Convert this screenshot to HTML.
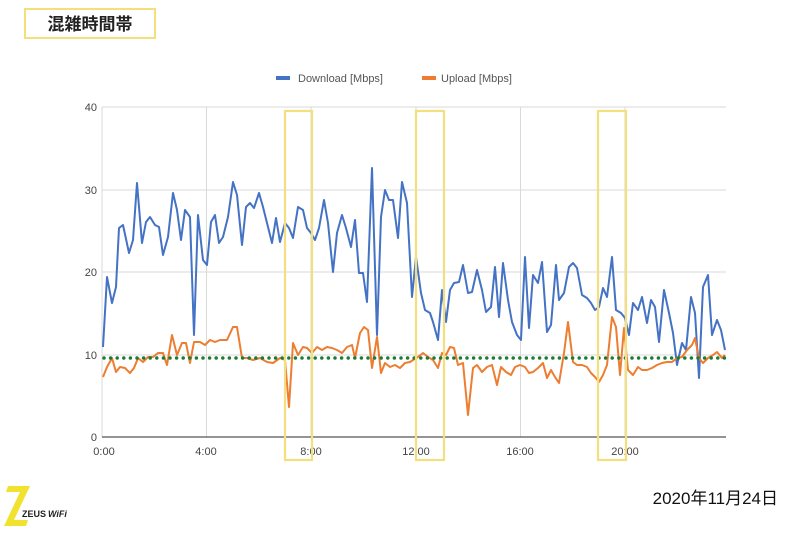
<!DOCTYPE html>
<html><head><meta charset="utf-8"><style>
body{margin:0;background:#fff;width:800px;height:533px;overflow:hidden;font-family:"Liberation Sans","Noto Sans CJK JP",sans-serif}
</style></head><body>
<svg width="800" height="533" viewBox="0 0 800 533" xmlns="http://www.w3.org/2000/svg" font-family="Liberation Sans, Noto Sans CJK JP, sans-serif">
<rect x="25" y="9" width="130" height="29" fill="#fff" stroke="#f3df7e" stroke-width="2"/>
<text x="90" y="30" text-anchor="middle" font-size="17" font-weight="bold" fill="#222">混雑時間帯</text>
<rect x="276" y="76" width="14" height="4" fill="#4472c4"/>
<text x="298" y="82" font-size="11" fill="#555">Download [Mbps]</text>
<rect x="422" y="76" width="14" height="4" fill="#ed7d31"/>
<text x="441" y="82" font-size="11" fill="#555">Upload [Mbps]</text>
<g stroke="#d9d9d9" stroke-width="1">
<line x1="102" y1="107" x2="726" y2="107"/><line x1="102" y1="190" x2="726" y2="190"/>
<line x1="102" y1="272" x2="726" y2="272"/><line x1="102" y1="355" x2="726" y2="355"/>
<line x1="102" y1="107" x2="102" y2="437"/><line x1="206.5" y1="107" x2="206.5" y2="437"/>
<line x1="311" y1="107" x2="311" y2="437"/><line x1="416" y1="107" x2="416" y2="437"/>
<line x1="520.5" y1="107" x2="520.5" y2="437"/><line x1="625" y1="107" x2="625" y2="437"/>
</g>
<line x1="102" y1="437" x2="726" y2="437" stroke="#555" stroke-width="1.2"/>
<g font-size="11" fill="#444" text-anchor="end">
<text x="97" y="111">40</text><text x="97" y="194">30</text><text x="97" y="276">20</text><text x="97" y="359">10</text><text x="97" y="441">0</text>
</g>
<g font-size="11" fill="#444" text-anchor="middle">
<text x="104" y="455">0:00</text><text x="206" y="455">4:00</text><text x="311" y="455">8:00</text><text x="416" y="455">12:00</text><text x="520" y="455">16:00</text><text x="625" y="455">20:00</text>
</g>
<polyline fill="none" stroke="#4472c4" stroke-width="2" stroke-linejoin="round" points="103,347 107,277 112,303 116,287 119,228 123,225 129,253 133,240 137,183 142,243 146,222 150,217 155,225 159,227 163,255 168,237 173,193 177,210 181,240 185,210 190,217 194,335 198,215 203,260 207,265 211,222 215,215 219,243 223,237 228,217 233,182 237,195 242,245 246,207 250,203 254,208 259,193 263,207 267,223 272,243 276,218 280,242 285,223 289,228 293,238 298,207 303,210 307,228 311,233 315,240 319,228 324,200 328,223 333,272 337,233 342,215 346,228 351,247 355,220 359,273 363,273 367,302 372,168 377,335 381,217 385,190 389,200 393,200 398,238 402,182 407,203 412,297 416,257 421,293 425,310 430,313 433,322 438,340 442,290 446,322 450,290 454,283 459,282 463,265 468,293 472,292 477,270 482,290 486,312 491,307 495,267 499,317 503,263 508,300 512,322 517,335 521,340 525,257 529,328 533,275 538,283 542,262 547,332 551,325 556,265 559,300 564,293 569,267 573,263 577,268 582,295 587,298 591,303 595,310 599,307 603,288 607,297 612,257 616,310 621,313 625,318 629,335 633,303 638,310 642,297 647,323 651,300 655,307 659,342 664,290 669,313 673,333 677,365 682,343 686,350 691,297 695,313 699,378 703,287 708,275 712,335 717,320 721,330 725,350"/>
<polyline fill="none" stroke="#ed7d31" stroke-width="2" stroke-linejoin="round" points="103,377 107,367 112,358 116,372 120,367 125,368 130,373 134,368 138,358 143,362 148,357 153,357 158,353 163,353 167,365 172,335 177,355 182,343 186,343 190,363 194,342 200,342 205,345 210,340 215,342 220,340 227,340 233,327 237,327 242,358 247,358 253,360 260,358 267,362 273,363 280,358 285,360 289,407 293,343 298,355 303,347 307,348 312,353 317,347 322,350 327,347 332,348 337,350 342,353 347,347 352,345 355,358 360,333 364,327 368,330 372,368 377,337 381,373 385,363 390,367 395,365 400,368 405,363 410,362 413,360 418,357 423,353 428,357 433,360 438,368 442,353 446,355 450,347 454,348 458,365 463,363 468,415 473,368 477,365 482,372 487,367 492,365 497,385 501,367 506,372 511,375 515,367 520,365 525,367 529,373 533,372 538,368 543,363 547,378 551,370 555,377 559,383 564,353 568,322 573,362 577,365 582,365 587,367 591,373 595,377 599,382 603,375 607,365 612,317 616,327 620,375 624,328 628,370 633,375 638,367 642,370 647,370 652,368 657,365 662,363 667,362 672,362 677,358 682,357 687,350 692,345 695,338 699,358 703,363 708,358 713,355 717,352 722,358 725,355"/>
<line x1="104" y1="358" x2="726" y2="358" stroke="#1e7b34" stroke-width="3.5" stroke-dasharray="0 6.6" stroke-linecap="round"/>
<g fill="none" stroke="#f3df7e" stroke-width="2.2">
<rect x="285" y="111" width="27" height="349"/>
<rect x="416" y="111" width="28" height="349"/>
<rect x="598" y="111" width="28" height="349"/>
</g>
<path d="M8,486 L30,486 L14,520 L28,520 L26,526 L4,526 L20,492 L6,492 Z" fill="#f2e230"/>
<text x="22" y="517" font-size="9" font-weight="bold" fill="#222">ZEUS</text>
<text x="48" y="517" font-size="9" font-style="italic" font-weight="bold" fill="#222">WiFi</text>
<text x="778" y="504" text-anchor="end" font-size="17" fill="#111">2020年11月24日</text>
</svg>
</body></html>
